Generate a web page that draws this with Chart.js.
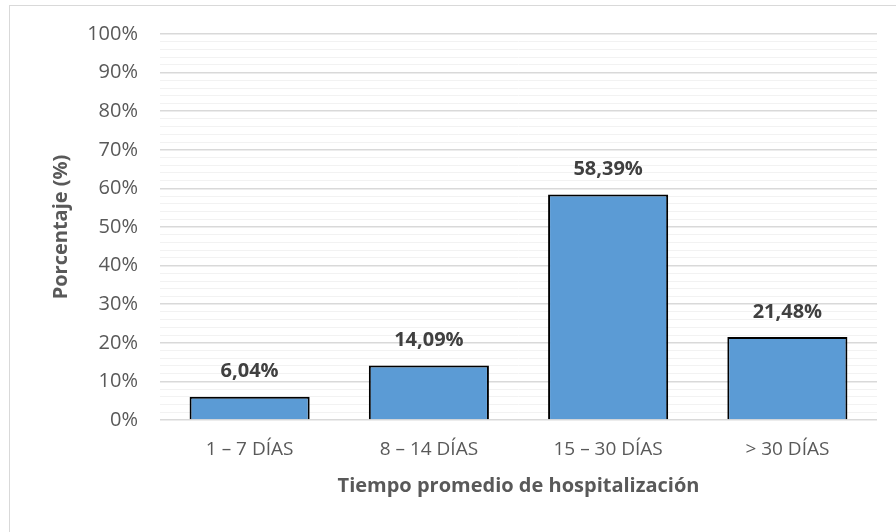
<!DOCTYPE html>
<html>
<head>
<meta charset="utf-8">
<script src="https://cdn.jsdelivr.net/npm/chart.js@4"></script>
<style>
  body { margin: 0; background: #ffffff; }
  #wrap { position: relative; width: 896px; height: 532px; overflow: hidden; }
  #frame { position: absolute; left: 9px; top: 5px; width: 940px; height: 600px; border: 1px solid #d9d9d9; }
  canvas { position: absolute; left: 0; top: 0; }
</style>
</head>
<body>
<div id="wrap">
  <div id="frame"></div>
  <canvas id="hospChart" width="896" height="532"></canvas>
</div>
<script>
// Datos del gráfico
const categorias = ['1 – 7 DÍAS', '8 – 14 DÍAS', '15 – 30 DÍAS', '> 30 DÍAS'];
const porcentajes = [6.04, 14.09, 58.39, 21.48];
const ejeYMin = 0;
const ejeYMax = 100;
const ejeYPaso = 2;        // minor gridlines every 2%
const ejeYEtiqueta = 10;   // labelled ticks every 10%

const fontFamily = "'Open Sans', sans-serif";

// Simple value labels above the bars (no datalabels plugin available offline)
const etiquetasBarras = {
    id: 'etiquetasBarras',
    afterDatasetsDraw(chart) {
        const ctx = chart.ctx;
        const meta = chart.getDatasetMeta(0);
        ctx.save();
        ctx.font = 'bold 20px ' + fontFamily;
        ctx.fillStyle = '#404040';
        ctx.textAlign = 'center';
        ctx.textBaseline = 'middle';
        meta.data.forEach(function (bar, i) {
            const txt = porcentajes[i].toFixed(2).replace('.', ',') + '%';
            ctx.fillText(txt, bar.x, bar.y - 25);
        });
        ctx.restore();
    }
};

const ctx = document.getElementById('hospChart').getContext('2d');
const hospChart = new Chart(ctx, {
    type: 'bar',
    data: {
        labels: categorias,
        datasets: [{
            data: porcentajes,
            backgroundColor: '#5B9BD5',
            borderColor: '#000000',
            borderWidth: 2,
            borderSkipped: 'bottom',
            barPercentage: 0.67,
            categoryPercentage: 1.0
        }]
    },
    options: {
        responsive: false,
        animation: false,
        layout: {
            padding: { top: 34, right: 19, left: 0, bottom: 0 }
        },
        plugins: {
            legend: { display: false },
            tooltip: { enabled: false }
        },
        scales: {
            x: {
                grid: { display: false, drawTicks: false },
                border: { display: false },
                ticks: {
                    color: '#595959',
                    font: { size: 19, family: fontFamily },
                    padding: 18
                },
                title: {
                    display: true,
                    text: 'Tiempo promedio de hospitalización',
                    color: '#595959',
                    font: { size: 20, weight: 'bold', family: fontFamily },
                    padding: { top: 0, bottom: 34 }
                },
                afterFit: function (scale) { scale.height = 112; }
            },
            y: {
                min: ejeYMin,
                max: ejeYMax,
                border: { display: false },
                grid: {
                    drawTicks: false,
                    color: function (c) {
                        return (Math.round(c.tick.value) % ejeYEtiqueta === 0) ? '#d9d9d9' : '#f2f2f2';
                    },
                    lineWidth: function (c) {
                        return (Math.round(c.tick.value) % ejeYEtiqueta === 0) ? 1.5 : 1;
                    }
                },
                ticks: {
                    stepSize: ejeYPaso,
                    autoSkip: false,
                    color: '#595959',
                    font: { size: 20, family: fontFamily },
                    padding: 22,
                    callback: function (v) {
                        const r = Math.round(v);
                        return (r % ejeYEtiqueta === 0) ? r + '%' : '';
                    }
                },
                title: {
                    display: true,
                    text: 'Porcentaje (%)',
                    color: '#595959',
                    font: { size: 20, weight: 'bold', family: fontFamily },
                    padding: { top: 49, bottom: 0 }
                },
                afterFit: function (scale) { scale.width = 160; }
            }
        }
    },
    plugins: [etiquetasBarras]
});
</script>
</body>
</html>
